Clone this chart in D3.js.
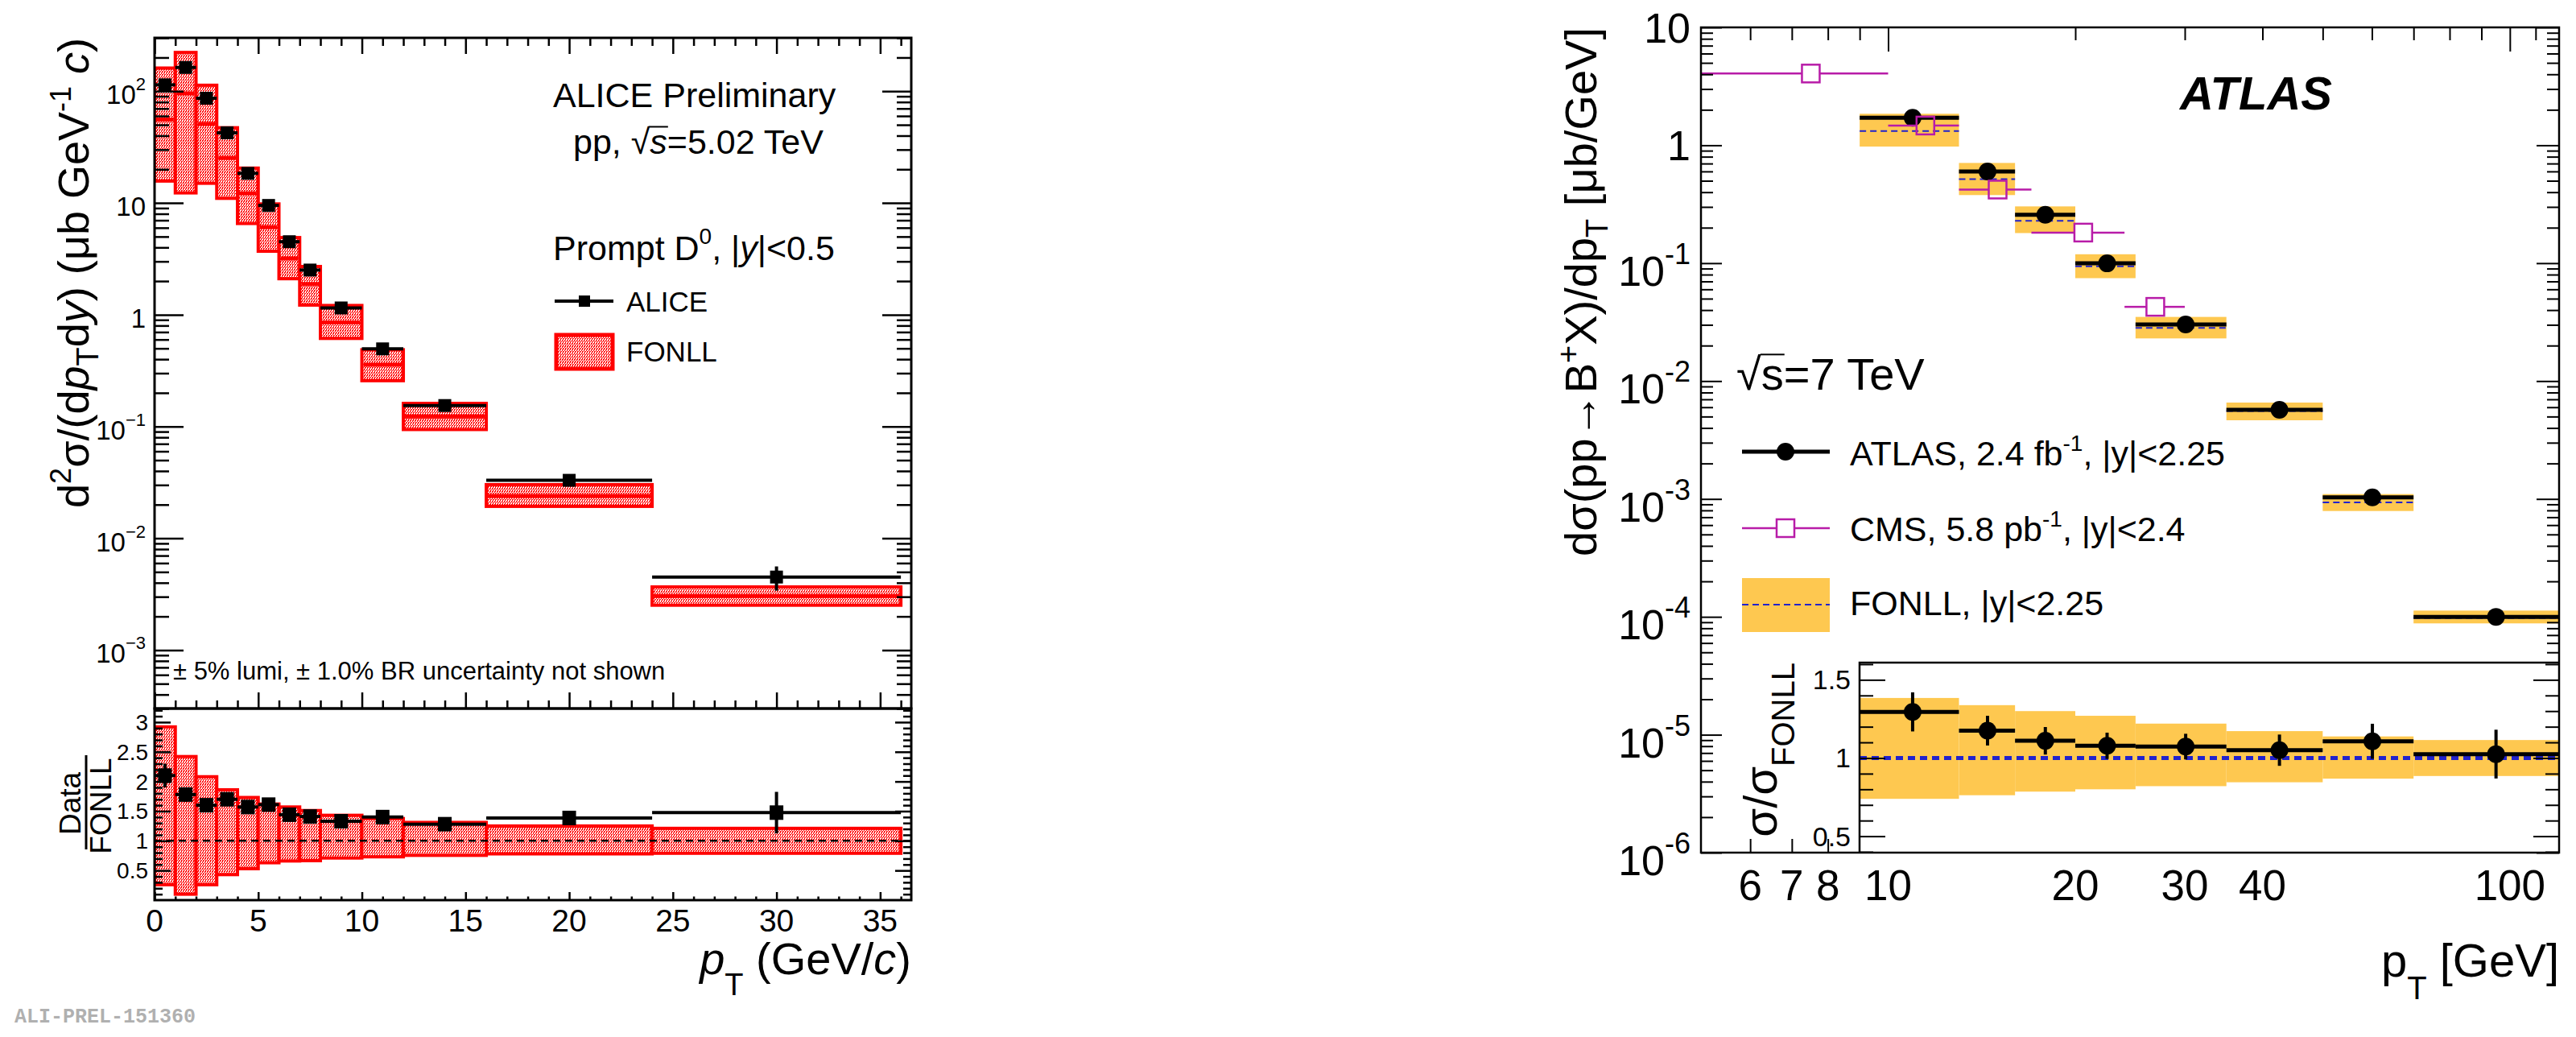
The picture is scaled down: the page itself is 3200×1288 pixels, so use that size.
<!DOCTYPE html>
<html>
<head>
<meta charset="utf-8">
<script src="https://cdn.jsdelivr.net/npm/d3@7"></script>
<style>
body { margin: 0; background: #fff; }
svg text { font-family: "Liberation Sans", Arial, Helvetica, sans-serif; }
</style>
</head>
<body>
<svg id="chart" width="3200" height="1288"></svg>
<script>
// ---------- ALICE prompt D0, pp 5.02 TeV ----------
var dPtLow  = [0, 1, 2, 3, 4, 5, 6, 7, 8, 10, 12, 16, 24];
var dPtHigh = [1, 2, 3, 4, 5, 6, 7, 8, 10, 12, 16, 24, 36];
var dYield  = [114, 163, 86.5, 42.4, 18.4, 9.5, 4.5, 2.51, 1.15, 0.495, 0.154, 0.033, 0.0045];
var dStat   = [3, 5, 2.5, 1.2, 0.5, 0.25, 0.12, 0.07, 0.03, 0.015, 0.005, 0.0015, 0.0011];
var fonllCen = [55.6, 95.6, 51, 25.3, 12.2, 6.08, 3.19, 1.88, 0.853, 0.357, 0.123, 0.0239, 0.00305];
var fonllHi  = [161, 222, 113, 47.1, 20.5, 9.8, 4.9, 2.7, 1.21, 0.486, 0.161, 0.0302, 0.00367];
var fonllLo  = [15.7, 12.3, 15.0, 11.0, 6.55, 3.70, 2.10, 1.22, 0.614, 0.257, 0.094, 0.0193, 0.00252];

var dRatio    = [2.10, 1.78, 1.60, 1.70, 1.57, 1.61, 1.44, 1.41, 1.33, 1.40, 1.28, 1.385, 1.475];
var dRatioErr = [0.2, 0.12, 0.08, 0.08, 0.08, 0.07, 0.08, 0.07, 0.07, 0.07, 0.08, 0.12, 0.35];
var fRatioHi  = [2.92, 2.42, 2.08, 1.86, 1.73, 1.62, 1.57, 1.51, 1.43, 1.375, 1.31, 1.25, 1.21];
var fRatioLo  = [0.26, 0.10, 0.26, 0.43, 0.53, 0.63, 0.66, 0.665, 0.71, 0.73, 0.755, 0.78, 0.79];

// ---------- ATLAS B+, pp 7 TeV ----------
var bPtLow  = [9, 13, 16, 20, 25, 35, 50, 70];
var bPtHigh = [13, 16, 20, 25, 35, 50, 70, 120];
var bPt     = [10.95, 14.45, 17.9, 22.5, 30.1, 42.6, 60.1, 95];
var bXsec   = [1.71, 0.60, 0.257, 0.0996, 0.0302, 0.00571, 0.00103, 0.0001];
var bFonllCen = [1.32, 0.517, 0.229, 0.094, 0.0282, 0.00557, 0.000933, 0.000098];
var bFonllHi  = [1.85, 0.708, 0.303, 0.119, 0.035, 0.00657, 0.0011, 0.000113];
var bFonllLo  = [0.975, 0.378, 0.180, 0.0746, 0.0230, 0.00465, 0.00079, 0.000088];

var cmsPtLow  = [5, 10, 13, 17, 24];
var cmsPtHigh = [10, 13, 17, 24, 30];
var cmsPt     = [7.51, 11.48, 15.0, 20.6, 26.9];
var cmsXsec   = [4.06, 1.47, 0.421, 0.1817, 0.0426];

var bRatio    = [1.295, 1.175, 1.11, 1.078, 1.073, 1.05, 1.107, 1.025];
var bRatioErr = [0.125, 0.095, 0.088, 0.084, 0.082, 0.10, 0.112, 0.156];
var bRatioHi  = [1.384, 1.338, 1.30, 1.27, 1.22, 1.172, 1.138, 1.115];
var bRatioLo  = [0.739, 0.762, 0.785, 0.80, 0.82, 0.845, 0.868, 0.885];

// ---------- tick labels ----------
var aliceXLabels = [0, 5, 10, 15, 20, 25, 30, 35];
var aliceYExps   = [2, 1, 0, -1, -2, -3];
var aliceRLabels = [0.5, 1, 1.5, 2, 2.5, 3];
var atlasXLabels = [6, 7, 8, 10, 20, 30, 40, 100];
var atlasYExps   = [1, 0, -1, -2, -3, -4, -5, -6];
var atlasRLabels = [0.5, 1, 1.5];

var RED = "#ff0000", YEL = "#fec850", BLUE = "#2222cc", MAG = "#b81ca8";

var svg = d3.select("#chart");
var defs = svg.append("defs");

// dotted fill used by ROOT for the FONLL boxes
var pat = defs.append("pattern").attr("id", "fonllPat")
  .attr("patternUnits", "userSpaceOnUse").attr("width", 6).attr("height", 4);
pat.append("rect").attr("width", 6).attr("height", 4).attr("fill", "#fff");
[[0,0,2,1],[3,0,2,1],[0,1,1,1],[3,1,1,1],[2,2,2,1],[5,2,1,1],[0,2,1,1],[2,3,1,1],[5,3,1,1]].forEach(function(r){
  pat.append("rect").attr("x", r[0]).attr("y", r[1]).attr("width", r[2]).attr("height", r[3]).attr("fill", RED);
});

function clip(id, x, y, w, h) {
  defs.append("clipPath").attr("id", id).append("rect")
    .attr("x", x).attr("y", y).attr("width", w).attr("height", h);
}

// text with sub/superscripts
function rich(parent, x, y, size, parts, anchor) {
  var t = parent.append("text").attr("x", x).attr("y", y)
    .attr("font-size", size).attr("text-anchor", anchor || "start").attr("fill", "#000");
  var cur = 0;
  parts.forEach(function(p) {
    var off = p.sup ? -p.sup : p.sub ? p.sub : 0;
    var s = t.append("tspan").attr("dy", off - cur).text(p.t);
    if (p.fs) s.attr("font-size", p.fs);
    if (p.it) s.attr("font-style", "italic");
    cur = off;
  });
  return t;
}

function overline(t, idx, size) {
  var n = t.node();
  var a = n.getStartPositionOfChar(idx), b = n.getEndPositionOfChar(idx);
  d3.select(n.parentNode).append("line")
    .attr("x1", a.x - 1).attr("x2", b.x + 1)
    .attr("y1", a.y - size * 0.78).attr("y2", a.y - size * 0.78)
    .attr("stroke", "#000").attr("stroke-width", 2);
}

function ticks(g, axisFn, scale, vals, size, tx, ty, sw) {
  g.append("g").attr("transform", "translate(" + tx + "," + ty + ")")
    .call(axisFn(scale).tickValues(vals).tickSize(size).tickFormat(""))
    .call(function(s) { s.select(".domain").remove(); s.selectAll("text").remove(); })
    .call(function(s) { s.selectAll("line").attr("stroke", "#000").attr("stroke-width", sw); });
}

function logMinors(lo, hi) {
  var out = [];
  for (var e = Math.floor(Math.log10(lo)); e <= Math.ceil(Math.log10(hi)); e++) {
    for (var k = 2; k <= 9; k++) {
      var v = k * Math.pow(10, e);
      if (v >= lo * 0.999 && v <= hi * 1.001) out.push(v);
    }
  }
  return out;
}
function range(a, b, s) { return d3.range(a, b + s / 2, s).map(function(v){ return +v.toFixed(3); }); }

// =================== LEFT PANEL (ALICE) ===================
var L = { x0: 192, x1: 1132, y0: 47, y1: 880, r1: 1118 };
var ax = d3.scaleLinear().domain([0, 36.5]).range([L.x0, L.x1]);
var ay = d3.scaleLog().domain([3e-4, 300]).range([L.y1, L.y0]);
var ar = d3.scaleLinear().domain([0, 3.23]).range([L.r1, L.y1]);
clip("clipAMain", L.x0, L.y0, L.x1 - L.x0, L.y1 - L.y0);
clip("clipARat", L.x0, L.y1, L.x1 - L.x0, L.r1 - L.y1);

var gA = svg.append("g").attr("clip-path", "url(#clipAMain)");
var bins = d3.range(dPtLow.length);

gA.selectAll("rect.fonll").data(bins).join("rect")
  .attr("x", function(i){ return ax(dPtLow[i]); })
  .attr("width", function(i){ return ax(dPtHigh[i]) - ax(dPtLow[i]); })
  .attr("y", function(i){ return ay(fonllHi[i]); })
  .attr("height", function(i){ return ay(fonllLo[i]) - ay(fonllHi[i]); })
  .attr("fill", "url(#fonllPat)").attr("stroke", RED).attr("stroke-width", 4);
gA.selectAll("line.fc").data(bins).join("line")
  .attr("x1", function(i){ return ax(dPtLow[i]) + 2; })
  .attr("x2", function(i){ return ax(dPtHigh[i]) - 2; })
  .attr("y1", function(i){ return ay(fonllCen[i]); })
  .attr("y2", function(i){ return ay(fonllCen[i]); })
  .attr("stroke", RED).attr("stroke-width", 5);

gA.selectAll("line.dh").data(bins).join("line")
  .attr("x1", function(i){ return ax(dPtLow[i]); })
  .attr("x2", function(i){ return ax(dPtHigh[i]); })
  .attr("y1", function(i){ return ay(dYield[i]); })
  .attr("y2", function(i){ return ay(dYield[i]); })
  .attr("stroke", "#000").attr("stroke-width", 4);
gA.selectAll("line.dv").data(bins).join("line")
  .attr("x1", function(i){ return ax((dPtLow[i] + dPtHigh[i]) / 2); })
  .attr("x2", function(i){ return ax((dPtLow[i] + dPtHigh[i]) / 2); })
  .attr("y1", function(i){ return ay(dYield[i] + dStat[i]); })
  .attr("y2", function(i){ return ay(dYield[i] - dStat[i]); })
  .attr("stroke", "#000").attr("stroke-width", 4);
gA.selectAll("rect.dm").data(bins).join("rect")
  .attr("x", function(i){ return ax((dPtLow[i] + dPtHigh[i]) / 2) - 8; })
  .attr("y", function(i){ return ay(dYield[i]) - 8; })
  .attr("width", 16).attr("height", 16).attr("fill", "#000");

// ratio panel
var gR = svg.append("g").attr("clip-path", "url(#clipARat)");
gR.selectAll("rect").data(bins).join("rect")
  .attr("x", function(i){ return ax(dPtLow[i]); })
  .attr("width", function(i){ return ax(dPtHigh[i]) - ax(dPtLow[i]); })
  .attr("y", function(i){ return ar(fRatioHi[i]); })
  .attr("height", function(i){ return ar(fRatioLo[i]) - ar(fRatioHi[i]); })
  .attr("fill", "url(#fonllPat)").attr("stroke", RED).attr("stroke-width", 4);
gR.append("line").attr("x1", L.x0).attr("x2", L.x1).attr("y1", ar(1)).attr("y2", ar(1))
  .attr("stroke", "#000").attr("stroke-width", 2.5).attr("stroke-dasharray", "9,6");
gR.selectAll("line.rh").data(bins).join("line")
  .attr("x1", function(i){ return ax(dPtLow[i]); })
  .attr("x2", function(i){ return ax(dPtHigh[i]); })
  .attr("y1", function(i){ return ar(dRatio[i]); })
  .attr("y2", function(i){ return ar(dRatio[i]); })
  .attr("stroke", "#000").attr("stroke-width", 4);
gR.selectAll("line.rv").data(bins).join("line")
  .attr("x1", function(i){ return ax((dPtLow[i] + dPtHigh[i]) / 2); })
  .attr("x2", function(i){ return ax((dPtLow[i] + dPtHigh[i]) / 2); })
  .attr("y1", function(i){ return ar(dRatio[i] + dRatioErr[i]); })
  .attr("y2", function(i){ return ar(dRatio[i] - dRatioErr[i]); })
  .attr("stroke", "#000").attr("stroke-width", 4);
gR.selectAll("rect.rm").data(bins).join("rect")
  .attr("x", function(i){ return ax((dPtLow[i] + dPtHigh[i]) / 2) - 8.5; })
  .attr("y", function(i){ return ar(dRatio[i]) - 9; })
  .attr("width", 17).attr("height", 18).attr("fill", "#000");

// axes of left panel
var gAx = svg.append("g");
var xMaj = range(0, 35, 5), xMin = range(0, 36, 1).filter(function(v){ return v % 5; });
ticks(gAx, d3.axisBottom, ax, xMaj, -20, 0, L.y1, 2.5);
ticks(gAx, d3.axisBottom, ax, xMin, -10, 0, L.y1, 2.5);
ticks(gAx, d3.axisTop, ax, xMaj, -20, 0, L.y0, 2.5);
ticks(gAx, d3.axisTop, ax, xMin, -10, 0, L.y0, 2.5);
var yMaj = [1e-3, 1e-2, 1e-1, 1, 10, 100], yMin = logMinors(3e-4, 300);
ticks(gAx, d3.axisLeft, ay, yMaj, -36, L.x0, 0, 2.5);
ticks(gAx, d3.axisLeft, ay, yMin, -18, L.x0, 0, 2.5);
ticks(gAx, d3.axisRight, ay, yMaj, -36, L.x1, 0, 2.5);
ticks(gAx, d3.axisRight, ay, yMin, -18, L.x1, 0, 2.5);
ticks(gAx, d3.axisBottom, ax, xMaj, -10, 0, L.r1, 2.5);
ticks(gAx, d3.axisBottom, ax, xMin, -4.5, 0, L.r1, 2.5);
var rMaj = range(0.5, 3, 0.5), rMin = range(0.1, 3.2, 0.1).filter(function(v){ return Math.abs(v * 2 - Math.round(v * 2)) > 0.01; });
ticks(gAx, d3.axisLeft, ar, rMaj, -20, L.x0, 0, 2.5);
ticks(gAx, d3.axisLeft, ar, rMin, -10, L.x0, 0, 2.5);
ticks(gAx, d3.axisRight, ar, rMaj, -20, L.x1, 0, 2.5);
ticks(gAx, d3.axisRight, ar, rMin, -10, L.x1, 0, 2.5);
gAx.append("rect").attr("x", L.x0).attr("y", L.y0).attr("width", L.x1 - L.x0).attr("height", L.y1 - L.y0)
  .attr("fill", "none").attr("stroke", "#000").attr("stroke-width", 3);
gAx.append("rect").attr("x", L.x0).attr("y", L.y1).attr("width", L.x1 - L.x0).attr("height", L.r1 - L.y1)
  .attr("fill", "none").attr("stroke", "#000").attr("stroke-width", 3);

aliceYExps.forEach(function(e) {
  var y = ay(Math.pow(10, e)) + 16;
  if (e === 0) rich(gAx, 181, y, 33, [{t: "1"}], "end");
  else if (e === 1) rich(gAx, 181, y, 33, [{t: "10"}], "end");
  else rich(gAx, 181, y, 33, [{t: "10"}, {t: e < 0 ? "\u2212" + (-e) : "" + e, sup: 17, fs: 22}], "end");
});
aliceRLabels.forEach(function(v) {
  rich(gAx, 184, ar(v) + 10, 28, [{t: "" + v}], "end");
});
aliceXLabels.forEach(function(v) {
  rich(gAx, ax(v), 1157, 39, [{t: "" + v}], "middle");
});

// titles
var gt = svg.append("g").attr("transform", "translate(110,47) rotate(-90)");
rich(gt, 0, 0, 54, [{t: "d"}, {t: "2", sup: 22, fs: 36}, {t: "\u03c3/(d"}, {t: "p", it: 1},
  {t: "T", sub: 12, fs: 38}, {t: "d"}, {t: "y", it: 1}, {t: ")  (\u03bcb GeV"},
  {t: "-1", sup: 22, fs: 36}, {t: " "}, {t: "c", it: 1}, {t: ")"}], "end");
var gd = svg.append("g").attr("transform", "translate(100,998) rotate(-90)");
rich(gd, 0, 0, 37, [{t: "Data"}], "middle");
var gf = svg.append("g").attr("transform", "translate(138,1001) rotate(-90)");
rich(gf, 0, 0, 37, [{t: "FONLL"}], "middle");
svg.append("line").attr("x1", 107).attr("x2", 107).attr("y1", 938).attr("y2", 1055)
  .attr("stroke", "#000").attr("stroke-width", 3);
rich(svg, 1132, 1210, 56, [{t: "p", it: 1}, {t: "T", sub: 26, fs: 38}, {t: " (GeV/"}, {t: "c", it: 1}, {t: ")"}], "end");

// legend / labels
rich(svg, 687, 133, 43, [{t: "ALICE Preliminary"}]);
var ppT = rich(svg, 712, 191, 43, [{t: "pp, \u221a"}, {t: "s", it: 1}, {t: "=5.02 TeV"}]);
overline(ppT, 5, 43);
rich(svg, 687, 323, 43, [{t: "Prompt D"}, {t: "0", sup: 20, fs: 28}, {t: ", |"}, {t: "y", it: 1}, {t: "|<0.5"}]);
svg.append("line").attr("x1", 689).attr("x2", 762).attr("y1", 374).attr("y2", 374).attr("stroke", "#000").attr("stroke-width", 4);
svg.append("rect").attr("x", 719).attr("y", 367).attr("width", 14).attr("height", 14).attr("fill", "#000");
rich(svg, 778, 387, 35, [{t: "ALICE"}]);
svg.append("rect").attr("x", 691).attr("y", 416).attr("width", 70).attr("height", 42)
  .attr("fill", "url(#fonllPat)").attr("stroke", RED).attr("stroke-width", 5);
rich(svg, 778, 449, 35, [{t: "FONLL"}]);
rich(svg, 215, 844, 31, [{t: "\u00b1 5% lumi, \u00b1 1.0% BR uncertainty not shown"}]);
svg.append("text").attr("x", 18).attr("y", 1270).attr("font-size", 25).attr("font-weight", "bold")
  .attr("fill", "#b0b0b0").style("font-family", "'Liberation Mono', 'DejaVu Sans Mono', monospace")
  .text("ALI-PREL-151360");

// =================== RIGHT PANEL (ATLAS) ===================
var R = { x0: 2113, x1: 3179, y0: 34, y1: 1059, ix0: 2310, iy0: 823 };
var bx = d3.scaleLog().domain([5, 120]).range([R.x0, R.x1]);
var by = d3.scaleLog().domain([1e-6, 10]).range([R.y1, R.y0]);
var br = d3.scaleLinear().domain([0.395, 1.61]).range([R.y1, R.iy0]);
clip("clipBMain", R.x0, R.y0, R.x1 - R.x0, R.y1 - R.y0);
clip("clipBIns", R.ix0, R.iy0, R.x1 - R.ix0, R.y1 - R.iy0);

var bb = d3.range(bPtLow.length), cb = d3.range(cmsPtLow.length);
var gB = svg.append("g").attr("clip-path", "url(#clipBMain)");
gB.selectAll("rect").data(bb).join("rect")
  .attr("x", function(i){ return bx(bPtLow[i]); })
  .attr("width", function(i){ return bx(bPtHigh[i]) - bx(bPtLow[i]); })
  .attr("y", function(i){ return by(bFonllHi[i]); })
  .attr("height", function(i){ return by(bFonllLo[i]) - by(bFonllHi[i]); })
  .attr("fill", YEL);
gB.selectAll("line.fc").data(bb).join("line")
  .attr("x1", function(i){ return bx(bPtLow[i]); })
  .attr("x2", function(i){ return bx(bPtHigh[i]); })
  .attr("y1", function(i){ return by(bFonllCen[i]); })
  .attr("y2", function(i){ return by(bFonllCen[i]); })
  .attr("stroke", BLUE).attr("stroke-width", 2).attr("stroke-dasharray", "8,5");
gB.selectAll("line.bh").data(bb).join("line")
  .attr("x1", function(i){ return bx(bPtLow[i]); })
  .attr("x2", function(i){ return bx(bPtHigh[i]); })
  .attr("y1", function(i){ return by(bXsec[i]); })
  .attr("y2", function(i){ return by(bXsec[i]); })
  .attr("stroke", "#000").attr("stroke-width", 5);
gB.selectAll("circle").data(bb).join("circle")
  .attr("cx", function(i){ return bx(bPt[i]); })
  .attr("cy", function(i){ return by(bXsec[i]); })
  .attr("r", 11).attr("fill", "#000");
// CMS
gB.selectAll("line.cl").data(cb).join("line")
  .attr("x1", function(i){ return bx(cmsPtLow[i]); })
  .attr("x2", function(i){ return bx(cmsPt[i]) - 11; })
  .attr("y1", function(i){ return by(cmsXsec[i]); })
  .attr("y2", function(i){ return by(cmsXsec[i]); })
  .attr("stroke", MAG).attr("stroke-width", 2.5);
gB.selectAll("line.cr").data(cb).join("line")
  .attr("x1", function(i){ return bx(cmsPt[i]) + 11; })
  .attr("x2", function(i){ return bx(cmsPtHigh[i]); })
  .attr("y1", function(i){ return by(cmsXsec[i]); })
  .attr("y2", function(i){ return by(cmsXsec[i]); })
  .attr("stroke", MAG).attr("stroke-width", 2.5);
gB.selectAll("rect.cm").data(cb).join("rect")
  .attr("x", function(i){ return bx(cmsPt[i]) - 11; })
  .attr("y", function(i){ return by(cmsXsec[i]) - 11; })
  .attr("width", 22).attr("height", 22)
  .attr("fill", "none").attr("stroke", MAG).attr("stroke-width", 2.5);

// main axes ticks
var gBx = svg.append("g");
var bxMaj = [10, 100], bxMin = [6, 7, 8, 9, 20, 30, 40, 50, 60, 70, 80, 90, 110];
var byMaj = [1e-6, 1e-5, 1e-4, 1e-3, 1e-2, 1e-1, 1, 10], byMin = logMinors(1e-6, 10);
ticks(gBx, d3.axisTop, bx, bxMaj, -30, 0, R.y0, 2);
ticks(gBx, d3.axisTop, bx, bxMin, -16, 0, R.y0, 2);
ticks(gBx, d3.axisLeft, by, byMaj, -26, R.x0, 0, 2);
ticks(gBx, d3.axisLeft, by, byMin, -15, R.x0, 0, 2);
ticks(gBx, d3.axisRight, by, byMaj, -28, R.x1, 0, 2);
ticks(gBx, d3.axisRight, by, byMin, -15, R.x1, 0, 2);

// inset
var gI = svg.append("g");
gI.append("rect").attr("x", R.ix0).attr("y", R.iy0).attr("width", R.x1 - R.ix0).attr("height", R.y1 - R.iy0)
  .attr("fill", "#fff");
var gIc = gI.append("g").attr("clip-path", "url(#clipBIns)");
gIc.selectAll("rect").data(bb).join("rect")
  .attr("x", function(i){ return bx(bPtLow[i]); })
  .attr("width", function(i){ return bx(bPtHigh[i]) - bx(bPtLow[i]); })
  .attr("y", function(i){ return br(bRatioHi[i]); })
  .attr("height", function(i){ return br(bRatioLo[i]) - br(bRatioHi[i]); })
  .attr("fill", YEL);
gIc.append("line").attr("x1", R.ix0).attr("x2", R.x1).attr("y1", br(1)).attr("y2", br(1))
  .attr("stroke", BLUE).attr("stroke-width", 5).attr("stroke-dasharray", "9,6");
gIc.selectAll("line.ih").data(bb).join("line")
  .attr("x1", function(i){ return bx(bPtLow[i]); })
  .attr("x2", function(i){ return bx(bPtHigh[i]); })
  .attr("y1", function(i){ return br(bRatio[i]); })
  .attr("y2", function(i){ return br(bRatio[i]); })
  .attr("stroke", "#000").attr("stroke-width", 5);
gIc.selectAll("line.iv").data(bb).join("line")
  .attr("x1", function(i){ return bx(bPt[i]); })
  .attr("x2", function(i){ return bx(bPt[i]); })
  .attr("y1", function(i){ return br(bRatio[i] + bRatioErr[i]); })
  .attr("y2", function(i){ return br(bRatio[i] - bRatioErr[i]); })
  .attr("stroke", "#000").attr("stroke-width", 4);
gIc.selectAll("circle").data(bb).join("circle")
  .attr("cx", function(i){ return bx(bPt[i]); })
  .attr("cy", function(i){ return br(bRatio[i]); })
  .attr("r", 11).attr("fill", "#000");
var irMaj = [0.5, 1, 1.5], irMin = range(0.4, 1.6, 0.1).filter(function(v){ return Math.abs(v * 2 - Math.round(v * 2)) > 0.01; });
ticks(gI, d3.axisLeft, br, irMaj, -32, R.ix0, 0, 2);
ticks(gI, d3.axisLeft, br, irMin, -17, R.ix0, 0, 2);
ticks(gI, d3.axisRight, br, irMaj, -32, R.x1, 0, 2);
ticks(gI, d3.axisRight, br, irMin, -17, R.x1, 0, 2);
gI.append("path").attr("d", "M" + R.ix0 + "," + R.y1 + "V" + R.iy0 + "H" + R.x1)
  .attr("fill", "none").attr("stroke", "#000").attr("stroke-width", 2.5);

ticks(gBx, d3.axisBottom, bx, bxMaj, -32, 0, R.y1, 2);
ticks(gBx, d3.axisBottom, bx, bxMin, -17, 0, R.y1, 2);
svg.append("rect").attr("x", R.x0).attr("y", R.y0).attr("width", R.x1 - R.x0).attr("height", R.y1 - R.y0)
  .attr("fill", "none").attr("stroke", "#000").attr("stroke-width", 2.5);

// labels of right panel
atlasYExps.forEach(function(e) {
  var y = by(Math.pow(10, e));
  if (e === 0) rich(svg, 2100, y + 19, 52, [{t: "1"}], "end");
  else if (e === 1) rich(svg, 2100, y + 19, 52, [{t: "10"}], "end");
  else rich(svg, 2100, y + 28, 52, [{t: "10"}, {t: "" + e, sup: 27, fs: 36}], "end");
});
atlasXLabels.forEach(function(v) {
  rich(svg, bx(v), 1118, 53, [{t: "" + v}], "middle");
});
atlasRLabels.forEach(function(v) {
  rich(svg, 2299, br(v) + 12, 34, [{t: "" + v}], "end");
});
var gbt = svg.append("g").attr("transform", "translate(1983,34) rotate(-90)");
rich(gbt, 0, 0, 56, [{t: "d\u03c3(pp\u2192B"}, {t: "+", sup: 22, fs: 38}, {t: "X)/dp"},
  {t: "T", sub: 14, fs: 38}, {t: " [\u03bcb/GeV]"}], "end");
var gbi = svg.append("g").attr("transform", "translate(2207,823) rotate(-90)");
rich(gbi, 0, 0, 58, [{t: "\u03c3/\u03c3"}, {t: "FONLL", sub: 22, fs: 40}], "end");
rich(svg, 3179, 1213, 58, [{t: "p"}, {t: "T", sub: 28, fs: 40}, {t: " [GeV]"}], "end");

svg.append("text").attr("x", 2708).attr("y", 136).attr("font-size", 58)
  .attr("font-weight", "bold").attr("font-style", "italic").text("ATLAS");
var sT = rich(svg, 2157, 484, 56, [{t: "\u221as=7 TeV"}]);
overline(sT, 1, 56);

// legend right
svg.append("line").attr("x1", 2164).attr("x2", 2273).attr("y1", 561).attr("y2", 561).attr("stroke", "#000").attr("stroke-width", 5);
svg.append("circle").attr("cx", 2218).attr("cy", 561).attr("r", 11).attr("fill", "#000");
rich(svg, 2298, 578, 43, [{t: "ATLAS, 2.4 fb"}, {t: "-1", sup: 18, fs: 28}, {t: ", |y|<2.25"}]);
svg.append("line").attr("x1", 2164).attr("x2", 2207).attr("y1", 656).attr("y2", 656).attr("stroke", MAG).attr("stroke-width", 2.5);
svg.append("line").attr("x1", 2229).attr("x2", 2273).attr("y1", 656).attr("y2", 656).attr("stroke", MAG).attr("stroke-width", 2.5);
svg.append("rect").attr("x", 2207).attr("y", 645).attr("width", 22).attr("height", 22)
  .attr("fill", "none").attr("stroke", MAG).attr("stroke-width", 2.5);
rich(svg, 2298, 672, 43, [{t: "CMS, 5.8 pb"}, {t: "-1", sup: 18, fs: 28}, {t: ", |y|<2.4"}]);
svg.append("rect").attr("x", 2164).attr("y", 718).attr("width", 109).attr("height", 67).attr("fill", YEL);
svg.append("line").attr("x1", 2164).attr("x2", 2273).attr("y1", 751).attr("y2", 751)
  .attr("stroke", BLUE).attr("stroke-width", 2).attr("stroke-dasharray", "8,5");
rich(svg, 2298, 764, 43, [{t: "FONLL, |y|<2.25"}]);
</script>
</body>
</html>
